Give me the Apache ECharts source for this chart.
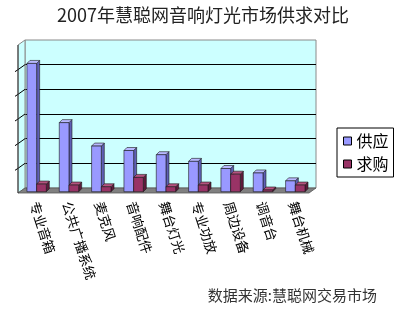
<!DOCTYPE html>
<html><head><meta charset="utf-8">
<script src="https://cdn.jsdelivr.net/npm/echarts@6/dist/echarts.min.js"></script>
<style>html,body{margin:0;padding:0;background:#fff}#c{width:400px;height:311px}</style>
</head><body><div id="c"></div>
<script>
const titleText = '2007年慧聪网音响灯光市场供求对比';
const sourceText = '数据来源:慧聪网交易市场';
const categories = ['专业音箱','公共广播系统','麦克风','音响配件','舞台灯光','专业功放','周边设备','调音台','舞台机械'];
const supply = [52, 28, 18.5, 16.7, 15, 12.3, 9.4, 7.6, 4.4];
const demand = [3.1, 2.7, 2.0, 5.8, 2.0, 2.7, 7.1, 0.7, 2.7];
const seriesNames = ['供应', '求购'];
const yMax = 60, yInterval = 10;

const FONT = '"Noto Sans CJK SC", "Noto Sans", sans-serif';
const DX = -7, DY = 5;
const BD = 3;
const faces = [
  {front:'#9999ff', top:'#b8b8ff', side:'#5f5fb5'},
  {front:'#993366', top:'#b5527f', side:'#5e1a3c'}
];

function renderBar(sIdx){
  return function(params, api){
    const i = api.value(0), v = api.value(1);
    const p0 = api.coord([i, 0]), p1 = api.coord([i, v]);
    const band = api.size([1, 0])[0];
    const w = band * 0.3;
    const x = p0[0] - band * 0.44 + sIdx * w;
    const yb = p0[1] + 3.7, yt = p1[1] + 3.7;
    const st = {stroke:'#1a1a1a', lineWidth:0.6};
    return {type:'group', children:[
      {type:'polygon', shape:{points:[[x+w,yt],[x+w+BD,yt-BD],[x+w+BD,yb-BD],[x+w,yb]]}, style:Object.assign({fill:faces[sIdx].side}, st)},
      {type:'polygon', shape:{points:[[x,yt],[x+w,yt],[x+w+BD,yt-BD],[x+BD,yt-BD]]}, style:Object.assign({fill:faces[sIdx].top}, st)},
      {type:'rect', shape:{x:x, y:yt, width:w, height:yb-yt}, style:Object.assign({fill:faces[sIdx].front}, st)}
    ]};
  };
}

const chart = echarts.init(document.getElementById('c'), null, {renderer:'canvas'});
const option = {
  animation:false,
  backgroundColor:'#fff',
  title:[
    {text:titleText, left:52, top:1, textStyle:{fontSize:18, fontWeight:'normal', color:'#222', fontFamily:FONT}},
    {text:sourceText, right:18, top:283, textStyle:{fontSize:15, fontWeight:'normal', color:'#333', fontFamily:FONT}}
  ],
  legend:{
    orient:'vertical', left:337, top:128, itemWidth:8, itemHeight:8, itemGap:7,
    padding:[5,5,5,6], borderColor:'#000', borderWidth:1, backgroundColor:'#fff',
    icon:'rect',
    textStyle:{fontSize:16, color:'#000', fontFamily:FONT},
    data:seriesNames.map((n, k) => ({name:n, itemStyle:{color:faces[k].front, borderColor:'#000', borderWidth:1}}))
  },
  grid:[
    {left:25, right:84, top:40, bottom:123, show:true, backgroundColor:'#ccffff', borderColor:'#8a8a8a', borderWidth:1},
    {left:18, right:91, top:45, bottom:118}
  ],
  xAxis:[
    {type:'category', gridIndex:0, data:categories, axisLine:{show:false}, axisTick:{show:false}, axisLabel:{show:false}},
    {type:'category', gridIndex:1, data:categories, axisLine:{show:false}, axisTick:{show:false},
     axisLabel:{interval:0, rotate:-72, margin:9, fontSize:13.5, color:'#000', fontFamily:FONT}}
  ],
  yAxis:[
    {type:'value', gridIndex:0, min:0, max:yMax, interval:yInterval, axisLine:{show:false}, axisTick:{show:false}, axisLabel:{show:false},
     splitLine:{show:true, showMinLine:false, showMaxLine:false, lineStyle:{color:'#000', width:1}}},
    {type:'value', gridIndex:1, min:0, max:yMax, interval:yInterval, show:false}
  ],
  series:[
    {name:seriesNames[0], type:'custom', xAxisIndex:0, yAxisIndex:0, z:5, itemStyle:{color:faces[0].front},
     renderItem:renderBar(0), data:supply.map((v, i) => [i, v])},
    {name:seriesNames[1], type:'custom', xAxisIndex:0, yAxisIndex:0, z:6, itemStyle:{color:faces[1].front},
     renderItem:renderBar(1), data:demand.map((v, i) => [i, v])}
  ]
};
chart.setOption(option);

const n = categories.length;
const c0 = chart.convertToPixel({xAxisIndex:0}, 0);
const c1 = chart.convertToPixel({xAxisIndex:0}, 1);
const band = c1 - c0;
const L = c0 - band / 2, R = c0 + band * (n - 0.5);
const T = chart.convertToPixel({yAxisIndex:0}, yMax);
const B = chart.convertToPixel({yAxisIndex:0}, 0);
const gfx = [];
gfx.push({type:'polygon', z:3, shape:{points:[[L,T],[L,B],[L+DX,B+DY],[L+DX,T+DY]]}, style:{fill:'#ccffff', stroke:'#8a8a8a', lineWidth:1}});
for (let v = yInterval; v < yMax; v += yInterval) {
  const y = chart.convertToPixel({yAxisIndex:0}, v);
  gfx.push({type:'line', z:3, shape:{x1:L, y1:y, x2:L+DX, y2:y+DY}, style:{stroke:'#000', lineWidth:1}});
  gfx.push({type:'line', z:3, shape:{x1:L+DX, y1:y+DY, x2:L+DX-3, y2:y+DY+2}, style:{stroke:'#000', lineWidth:1}});
}
gfx.push({type:'polygon', z:3, shape:{points:[[L,B],[R,B],[R+DX,B+DY],[L+DX,B+DY]]}, style:{fill:'#808080', stroke:'#555', lineWidth:0.8}});
gfx.push({type:'line', z:3, shape:{x1:L+DX, y1:T+DY, x2:L+DX, y2:B+DY}, style:{stroke:'#333', lineWidth:1}});
chart.setOption({graphic:{elements:gfx}});
</script>
</body></html>
